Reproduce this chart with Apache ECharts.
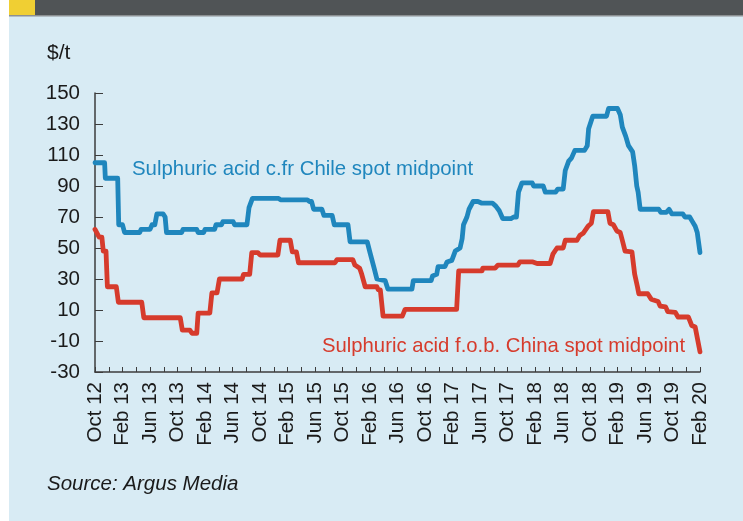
<!DOCTYPE html>
<html>
<head>
<meta charset="utf-8">
<script src="https://cdn.jsdelivr.net/npm/echarts@6/dist/echarts.min.js"></script>
<style>
  html, body { margin: 0; padding: 0; background: #ffffff; }
  #chart { width: 743px; height: 521px; }
</style>
</head>
<body>
<div id="chart"></div>
<script>
// x values are months counted from Oct 2012
const tickLabels = ['Oct 12', 'Feb 13', 'Jun 13', 'Oct 13', 'Feb 14', 'Jun 14', 'Oct 14', 'Feb 15',
  'Jun 15', 'Oct 15', 'Feb 16', 'Jun 16', 'Oct 16', 'Feb 17', 'Jun 17', 'Oct 17', 'Feb 18',
  'Jun 18', 'Oct 18', 'Feb 19', 'Jun 19', 'Oct 19', 'Feb 20'];

const chileMonths = [0, 1.4, 1.5, 3.3, 3.45, 4.0, 4.3, 6.5, 6.7, 8.0, 8.3, 8.7, 9.0, 9.9, 10.2, 10.4,
  12.6, 12.8, 14.8, 15.0, 15.8, 16.0, 17.4, 17.6, 18.4, 18.6, 20.1, 20.3, 22.1, 22.4, 22.9,
  26.7, 27.0, 30.9, 31.2, 31.5, 31.8, 33.0, 33.3, 34.5, 34.8, 36.8, 37.1, 39.6, 40.0, 40.6,
  41.0, 42.2, 42.6, 46.1, 46.3, 48.9, 49.1, 49.7, 49.9, 50.9, 51.2, 51.9, 52.4, 53.1, 53.4,
  53.6, 54.1, 54.4, 55.0, 55.7, 56.2, 57.8, 58.3, 58.8, 59.3, 60.5, 60.9, 61.3, 61.6, 62.1,
  63.6, 63.8, 65.2, 65.5, 67.0, 67.3, 68.1, 68.4, 68.9, 69.3, 69.8, 71.2, 71.6, 71.8, 72.4,
  74.4, 74.7, 76.0, 76.4, 76.7, 77.2, 77.6, 78.2, 78.5, 78.8, 79.0, 79.3, 82.0, 82.3, 83.1,
  83.5, 83.9, 85.5, 85.8, 86.5, 86.9, 87.3, 87.6, 88];
const chileValues = [105, 105, 95, 95, 65, 65, 60, 60, 62, 62, 65, 65, 72, 72, 70, 60,
  60, 62, 62, 60, 60, 62, 62, 65, 65, 67, 67, 65, 65, 76, 82,
  82, 81, 81, 80, 80, 75, 75, 71, 71, 65, 65, 54, 54, 47, 37,
  30, 29, 23.5, 23.5, 29, 29, 32, 33, 38, 38, 41, 42, 48, 50, 56,
  65, 70, 75, 80, 80, 79, 79, 77, 74, 69, 69, 70, 70, 86, 92,
  92, 90, 90, 86, 86, 88, 88, 100, 106, 108, 113, 113, 116, 127, 135,
  135, 140, 140, 136, 128, 122, 116, 112, 103, 90, 86, 75, 75, 73, 73,
  75, 72, 72, 70, 70, 67, 64, 60, 47];

const chinaMonths = [0, 0.6, 1.0, 1.2, 1.6, 1.8, 3.1, 3.4, 6.8, 7.1, 12.4, 12.7, 13.8, 14.1, 14.8,
  15.0, 16.7, 17.0, 17.75, 18.1, 21.4, 21.6, 22.5, 22.8, 23.7, 24.0, 26.6, 26.9, 28.4, 28.7,
  29.3, 29.6, 34.9, 35.2, 37.5, 37.8, 38.5, 38.8, 39.3, 41.0, 41.2, 41.5, 41.9, 44.7, 45.1,
  52.6, 52.9, 56.3, 56.4, 58.2, 58.6, 61.5, 61.8, 63.7, 64.3, 66.2, 66.6, 67.2, 68.1, 68.4,
  70.1, 70.5, 71.0, 71.7, 72.2, 72.5, 74.6, 74.9, 75.4, 75.9, 76.4, 76.7, 77.1, 78.1, 78.5,
  78.9, 79.1, 80.4, 80.9, 81.9, 82.2, 83.0, 83.3, 84.4, 84.8, 86.3, 86.8, 87.3, 88];
const chinaValues = [62, 57, 57, 48, 48, 25, 25, 15, 15, 5, 5, -3, -3, -5, -5,
  8, 8, 21, 21, 30, 30, 33, 33, 47, 47, 45.5, 45.5, 55, 55, 47.5,
  47.5, 40.5, 40.5, 42.5, 42.5, 39, 37, 33, 25, 25, 23, 23, 6, 6, 10.4,
  10.4, 35.3, 35.3, 37, 37, 39, 39, 41, 41, 40, 40, 46, 50, 50, 55,
  55, 58, 59.5, 64, 66, 73.5, 73.5, 66, 65, 61, 60, 55, 48, 47.5, 33,
  25, 20.5, 20.5, 17, 15.5, 12.5, 12, 9, 8.5, 5.5, 5.5, 0, -1, -17];

const chileName = 'Sulphuric acid c.fr Chile spot midpoint';
const chinaName = 'Sulphuric acid f.o.b. China spot midpoint';

const pairs = (xs, ys) => xs.map((x, i) => [x, ys[i]]);

const FONT = '"Liberation Sans", Arial, sans-serif';
const BLUE = '#1f86bd';
const RED = '#d63b2c';
const AXIS = '#3c3c3c';

const chart = echarts.init(document.getElementById('chart'));

const option = {
  backgroundColor: '#d8ebf4',
  animation: false,
  grid: { left: 95, right: 43, top: 93, bottom: 149, containLabel: false },
  xAxis: {
    type: 'value',
    min: 0,
    max: 88,
    interval: 2,
    axisLine: { show: true, onZero: false, lineStyle: { color: AXIS, width: 1.5 } },
    axisTick: { show: true, inside: true, length: 5, lineStyle: { color: AXIS, width: 1 } },
    splitLine: { show: false },
    axisLabel: {
      rotate: 90,
      margin: 10,
      color: '#1a1a1a',
      fontFamily: FONT,
      fontSize: 20.5,
      formatter: v => (v % 4 === 0 ? tickLabels[v / 4] : '')
    }
  },
  yAxis: {
    type: 'value',
    min: -30,
    max: 150,
    interval: 20,
    axisLine: { show: true, lineStyle: { color: AXIS, width: 1.5 } },
    axisTick: { show: true, inside: true, length: 8, lineStyle: { color: AXIS, width: 1 } },
    splitLine: { show: false },
    axisLabel: {
      margin: 15,
      color: '#1a1a1a',
      fontFamily: FONT,
      fontSize: 20.5,
      padding: [0, 0, 9, 0]
    }
  },
  series: [
    {
      name: chileName,
      type: 'line',
      data: pairs(chileMonths, chileValues),
      showSymbol: false,
      lineStyle: { color: BLUE, width: 4.8, cap: 'round', join: 'round' }
    },
    {
      name: chinaName,
      type: 'line',
      data: pairs(chinaMonths, chinaValues),
      showSymbol: false,
      lineStyle: { color: RED, width: 4.8, cap: 'round', join: 'round' }
    }
  ],
  graphic: [
    { type: 'rect', shape: { x: 0, y: 0, width: 9, height: 521 }, style: { fill: '#ffffff' } },
    { type: 'rect', shape: { x: 9, y: 0, width: 734, height: 15 }, style: { fill: '#505456' } },
    { type: 'rect', shape: { x: 9, y: 15, width: 734, height: 1.5 }, style: { fill: '#8c9092' } },
    { type: 'rect', shape: { x: 9, y: 0, width: 26, height: 15 }, style: { fill: '#f0cf33' } },
    {
      type: 'text',
      style: { text: '$/t', x: 47, y: 53, textVerticalAlign: 'middle', font: '21px ' + FONT, fill: '#1a1a1a' }
    },
    {
      type: 'text',
      style: { text: chileName, x: 132, y: 169, textVerticalAlign: 'middle', font: '20.4px ' + FONT, fill: BLUE }
    },
    {
      type: 'text',
      style: { text: chinaName, x: 322, y: 346, textVerticalAlign: 'middle', font: '20.3px ' + FONT, fill: RED }
    },
    {
      type: 'text',
      style: { text: 'Source: Argus Media', x: 47, y: 484, textVerticalAlign: 'middle', font: 'italic 20.5px ' + FONT, fill: '#1a1a1a' }
    }
  ]
};

option && chart.setOption(option);
</script>
</body>
</html>
